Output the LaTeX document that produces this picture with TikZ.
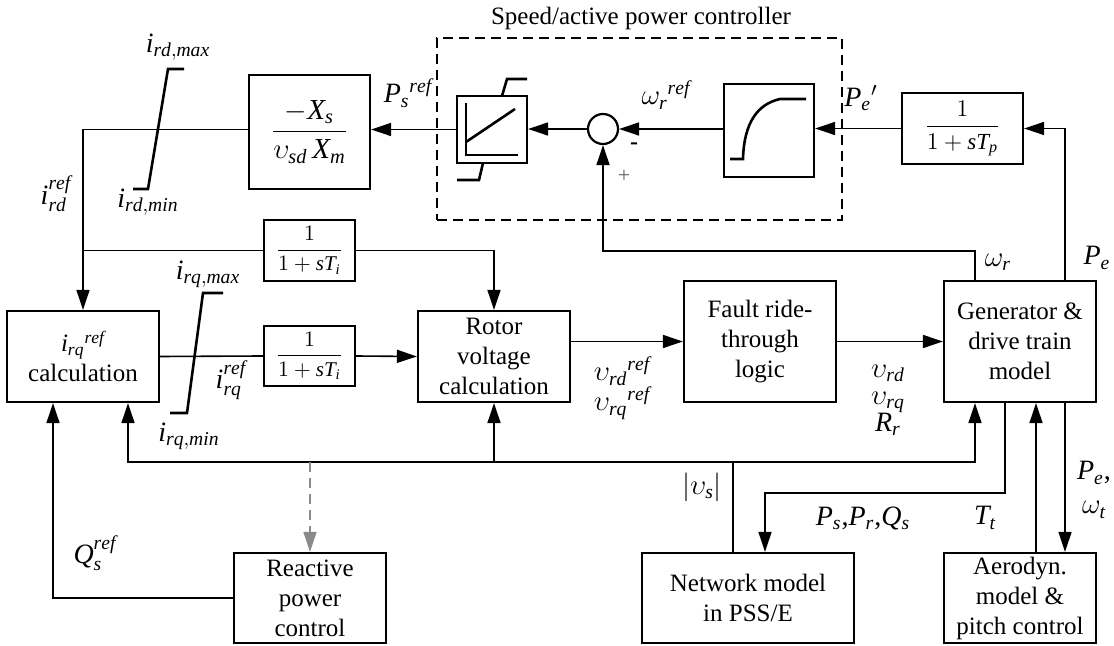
\documentclass[tikz,border=0pt]{standalone}
\usepackage{amsmath}
\usepackage{fontspec}
\setmainfont{Liberation Serif}
\usepackage{xcolor}
\usepackage{tikz}
\usetikzlibrary{arrows.meta}
\definecolor{dfig-line}{HTML}{000000}
\definecolor{dfig-grey}{HTML}{8A8A8A}
\newcommand{\mt}[1]{\mathit{#1}}
\newcommand{\upref}{\raisebox{2pt}{$\scriptstyle\mathit{ref}$}}
\tikzset{
    block/.style={draw=dfig-line, line width=1.1pt, inner sep=0pt, align=center, font=\fontsize{12.5}{15}\selectfont},
    wire/.style={draw=dfig-line, line width=0.8pt},
    sig/.style={wire, -{Triangle[length=10pt,width=6.5pt]}},
    lbl/.style={inner sep=0pt, align=center, font=\fontsize{14}{16}\selectfont},
    sat/.style={line width=1.3pt}
}

\begin{document}
\begin{tikzpicture}[x=0.5pt, y=-0.5pt]
    \useasboundingbox (0,0) rectangle (1114,646);

    % speed / active power controller
    \node (spdctrl) [draw, line width=0.8pt, dash pattern=on 5pt off 3pt, minimum width=202.5pt, minimum height=91pt] at (639.5,129) {};
    \node (spdtitle) [lbl, font=\fontsize{12.5}{15}\selectfont] at (641,18) {Speed/active power controller};
    \node (pi) [block, minimum width=35pt, minimum height=33.5pt] at (492,129.5) {};
    \node (sum) [draw, circle, line width=1.1pt, minimum size=15pt, inner sep=0pt] at (603,129) {};
    \node (ramp) [block, minimum width=45pt, minimum height=46.5pt] at (769,130.5) {};
    \node (tp) [block, minimum width=60.5pt, minimum height=35.5pt, font=\fontsize{11.5}{14}\selectfont] at (962.5,128.5) {$\dfrac{1}{1+\mt{s}\mt{T}_{\mt{p}}}$};

    % PI with limits
    \draw[sat] (466,103) -- (466,155) -- (518,155);
    \draw[sat] (466,142) -- (515,109);
    \draw[sat] (502,96) -- (507,79) -- (527,79);
    \draw[sat] (483,163) -- (479,180) -- (457,180);
    % rate limiter curve
    \draw[sat] (730,159) -- (743,159) .. controls (744,122) and (758,104) .. (780,99) -- (806,99);

    % current references
    \node (rdgain) [block, minimum width=60.5pt, minimum height=57pt, font=\fontsize{14.5}{16}\selectfont] at (309.5,132) {$\dfrac{-\mt{X}_{\mt{s}}}{\upsilon_{\mt{sd}}\,\mt{X}_{\mt{m}}}$};
    \node (lagd) [block, minimum width=45.5pt, minimum height=30.5pt, font=\fontsize{10.5}{12}\selectfont] at (309.5,250.5) {$\dfrac{1}{1+\mt{s}\mt{T}_{\mt{i}}}$};
    \node (lagq) [block, minimum width=45.5pt, minimum height=30pt, font=\fontsize{10.5}{12}\selectfont] at (309.5,356) {$\dfrac{1}{1+\mt{s}\mt{T}_{\mt{i}}}$};
    \node (irqcalc) [block, minimum width=76pt, minimum height=45.5pt] at (83,356.5) {$\mt{i}_{\mt{rq}}{}^{\mt{ref}}$\\calculation};
    \node (rotor) [block, minimum width=76pt, minimum height=45.5pt] at (494,356.5) {Rotor\\voltage\\calculation};
    \node (fault) [block, minimum width=76pt, minimum height=60.5pt] at (760,341.5) {Fault ride-\\through\\logic};
    \node (gen) [block, minimum width=76pt, minimum height=60.5pt] at (1020,341.5) {Generator \&\\drive train\\model};
    \node (reactive) [block, minimum width=76pt, minimum height=45pt] at (310,598) {Reactive\\power\\control};
    \node (net) [block, minimum width=106pt, minimum height=45pt] at (748,598) {Network model\\in PSS/E};
    \node (aero) [block, minimum width=76pt, minimum height=45pt] at (1020,598) {Aerodyn.\\model \&\\pitch control};

    % limiters on the current references
    \draw[sat] (133,189) -- (148,189) -- (168,69) -- (184,69);
    \draw[sat] (170,413) -- (187,413) -- (203,293) -- (223,293);

    % connectors
    \draw[sig] (tp.west) -- (tp.west -| ramp.east);
    \draw[sig] (sum.east -| ramp.west) -- (sum.east);
    \draw[sig] (sum.west) -- (sum.west -| pi.east);
    \draw[sig] (pi.west) -- (pi.west -| rdgain.east);
    \draw[sig] (rdgain.west |- pi.west) -| (irqcalc.north);
    \draw[wire] (lagd.west -| irqcalc.north) -- (lagd.west);
    \draw[sig] (lagd.east) -| (rotor.north);
    \draw[wire] (irqcalc.east) -- (lagq.west);
    \draw[sig] (lagq.east) -- (rotor.west);
    \draw[sig] (fault.west -| rotor.east) -- (fault.west);
    \draw[sig] (fault.east) -- (gen.west);
    \draw[sig] ([xshift=-22.5pt]gen.north) -- ++(0,-29) -| (sum.south);
    \draw[sig] ([xshift=22.5pt]gen.north) |- (tp.east);

    \coordinate (vsbus) at (733,462);
    \draw[wire] (net.north -| vsbus) -- (vsbus);
    \draw[sig] (vsbus) -| ([xshift=-22.5pt]gen.south);
    \draw[sig] (vsbus) -| ([xshift=22.5pt]irqcalc.south);
    \draw[sig] (rotor.south |- vsbus) -- (rotor.south);
    \draw[sig, draw=dfig-grey, dash pattern=on 5pt off 3pt] (reactive.north |- vsbus) -- (reactive.north);
    \draw[sig] (reactive.west) -| ([xshift=-15pt]irqcalc.south);
    \draw[sig] ([xshift=-7.5pt]gen.south) -- ++(0,90) -| ([xshift=8.5pt]net.north);
    \draw[sig] ([xshift=8pt]aero.north) -- ([xshift=8pt]gen.south);
    \draw[sig] ([xshift=22.5pt]gen.south) -- ([xshift=22.5pt]aero.north);

    % signal labels
    \node (psref) [lbl] at (408,93) {$\mt{P}_{\mt{s}}{}^{\mt{ref}}$};
    \node (wrref) [lbl] at (666,95) {$\omega_{\mt{r}}{}^{\mt{ref}}$};
    \node (peprime) [lbl] at (861,98) {$\mt{P}_{\mt{e}}{}'$};
    \node (minus) [lbl, font=\fontsize{12}{14}\bfseries] at (634,146) {-};
    \node (plus) [lbl, font=\fontsize{11}{13}\selectfont, text=dfig-grey!70!black] at (624,176) {+};
    \node (wr) [lbl] at (998,262) {$\omega_{\mt{r}}$};
    \node (pe) [lbl] at (1097,258) {$\mt{P}_{\mt{e}}$};
    \node (irdmax) [lbl] at (178,47) {$\mt{i}_{\mt{rd,max}}$};
    \node (irdmin) [lbl] at (148,202) {$\mt{i}_{\mt{rd,min}}$};
    \node (irdref) [lbl] at (56,194) {$\mt{i}_{\mt{rd}}^{\upref}$};
    \node (irqmax) [lbl] at (208,274) {$\mt{i}_{\mt{rq,max}}$};
    \node (irqmin) [lbl] at (189,436) {$\mt{i}_{\mt{rq,min}}$};
    \node (irqref) [lbl] at (231,380) {$\mt{i}_{\mt{rq}}^{\upref}$};
    \node (vref) [lbl, font=\fontsize{14}{15}\selectfont] at (622,388) {$\upsilon_{\mt{rd}}{}^{\mt{ref}}$\\$\upsilon_{\mt{rq}}{}^{\mt{ref}}$};
    \node (vrot) [lbl, font=\fontsize{14}{13.5}\selectfont] at (888,400) {$\upsilon_{\mt{rd}}$\\$\upsilon_{\mt{rq}}$\\$\mt{R}_{\mt{r}}$};
    \node (vs) [lbl] at (702,487) {$|\upsilon_{\mt{s}}|$};
    \node (qsref) [lbl] at (95,553) {$\mt{Q}_{\mt{s}}^{\upref}$};
    \node (pspq) [lbl] at (863,518) {$\mt{P}_{\mt{s}}$,$\mt{P}_{\mt{r}}$,$\mt{Q}_{\mt{s}}$};
    \node (tt) [lbl] at (985,518) {$\mt{T}_{\mt{t}}$};
    \node (pewt) [lbl, font=\fontsize{14}{17}\selectfont] at (1094,490) {$\mt{P}_{\mt{e}}$,\\$\omega_{\mt{t}}$};
\end{tikzpicture}
\end{document}
